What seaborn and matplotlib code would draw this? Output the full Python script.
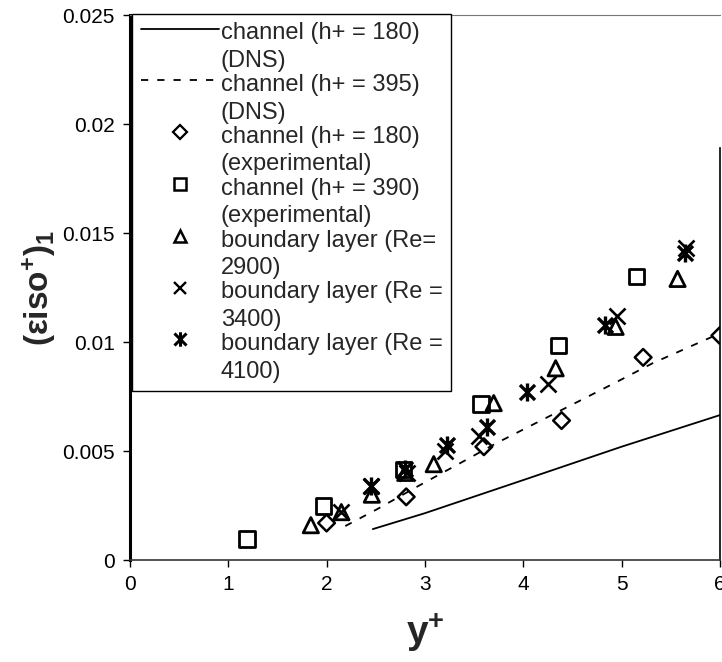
import numpy as np
import pandas as pd
import matplotlib
matplotlib.use("Agg")
import matplotlib.pyplot as plt
import seaborn as sns
from matplotlib.lines import Line2D
from matplotlib.path import Path
from matplotlib.legend_handler import HandlerLine2D

# ---------------- data ----------------
dns180_x = [2.47, 3.0, 4.0, 5.0, 6.0]
dns180_y = [0.00142, 0.00215, 0.00367, 0.0052, 0.00665]

dns395_x = [2.19, 2.5, 2.95, 3.36, 3.73, 4.95, 5.32, 6.0]
dns395_y = [0.00156, 0.0023, 0.00344, 0.00445, 0.00537, 0.00817, 0.00904, 0.0104]

exp180_x = [2.0, 2.81, 3.6, 4.39, 5.22, 6.0]
exp180_y = [0.0017, 0.0029, 0.0052, 0.0064, 0.0093, 0.0103]

exp390_x = [1.19, 1.97, 2.78, 3.57, 4.36, 5.15]
exp390_y = [0.00096, 0.00248, 0.00417, 0.00716, 0.00986, 0.0130]

bl2900_x = [1.84, 2.15, 2.46, 2.8, 3.09, 3.7, 4.33, 4.94, 5.57]
bl2900_y = [0.0016, 0.0022, 0.0030, 0.0040, 0.0044, 0.0072, 0.0088, 0.0107, 0.0129]

bl3400_x = [2.15, 2.45, 2.82, 3.2, 3.55, 4.25, 4.95, 5.66]
bl3400_y = [0.0022, 0.0034, 0.0040, 0.0050, 0.0057, 0.0081, 0.0112, 0.0143]

bl4100_x = [2.45, 2.8, 3.22, 3.63, 4.04, 4.83, 5.65]
bl4100_y = [0.0034, 0.0042, 0.0053, 0.0061, 0.0077, 0.0108, 0.0141]

labels = [
    "channel (h+ = 180)\n(DNS)",
    "channel (h+ = 395)\n(DNS)",
    "channel (h+ = 180)\n(experimental)",
    "channel (h+ = 390)\n(experimental)",
    "boundary layer (Re=\n2900)",
    "boundary layer (Re =\n3400)",
    "boundary layer (Re =\n4100)",
]
x_ticks = [0, 1, 2, 3, 4, 5, 6]
y_ticks = [0, 0.005, 0.01, 0.015, 0.02, 0.025]
y_ticklabels = ["0", "0.005", "0.01", "0.015", "0.02", "0.025"]

# ---------------- style ----------------
sns.set_theme(style="white")
plt.rcParams["font.family"] = ["Liberation Sans", "DejaVu Sans"]
plt.rcParams["mathtext.fontset"] = "custom"
plt.rcParams["mathtext.rm"] = "Liberation Sans:bold"
plt.rcParams["mathtext.it"] = "Liberation Sans:bold"
plt.rcParams["mathtext.bf"] = "Liberation Sans:bold"

# Excel-like star marker: X with vertical bar
star_path = Path(
    [(-1, -1), (1, 1), (-1, 1), (1, -1), (0, -1.2), (0, 1.2)],
    [Path.MOVETO, Path.LINETO, Path.MOVETO, Path.LINETO, Path.MOVETO, Path.LINETO],
)

fig = plt.figure(figsize=(7.22, 6.62), dpi=100)
ax = fig.add_axes([0.180, 0.154, 0.817, 0.823])

def line_df(x, y):
    return pd.DataFrame({"x": x, "y": y})

sns.lineplot(data=line_df(dns180_x, dns180_y), x="x", y="y", ax=ax,
             color="black", linewidth=1.3, sort=False, estimator=None)
sns.lineplot(data=line_df(dns395_x, dns395_y), x="x", y="y", ax=ax,
             color="black", linewidth=1.3, sort=False, estimator=None,
             linestyle=(0, (4, 5)))

marker_specs = [
    (exp180_x, exp180_y, "D", 8.5, 1.8),
    (exp390_x, exp390_y, "s", 11.0, 2.0),
    (bl2900_x, bl2900_y, "^", 11.0, 2.0),
    (bl3400_x, bl3400_y, "x", 11.5, 1.9),
    (bl4100_x, bl4100_y, star_path, 13.0, 2.4),
]
for xs, ys, mk, ms, mew in marker_specs:
    filled = mk not in ("x",) and not isinstance(mk, Path)
    sns.scatterplot(data=line_df(xs, ys), x="x", y="y", ax=ax,
                    marker=mk, s=ms ** 2, linewidth=mew,
                    facecolor="none" if filled else "black",
                    edgecolor="black", color="black", zorder=3)

ax.set_xlim(0, 6)
ax.set_ylim(0, 0.025)
ax.set_xticks(x_ticks)
ax.set_xticklabels([str(t) for t in x_ticks])
ax.set_yticks(y_ticks)
ax.set_yticklabels(y_ticklabels)
ax.tick_params(axis="both", direction="out", length=5, width=1.0,
               labelsize=15, colors="black", pad=6, left=True, bottom=True)

for side in ["left", "bottom", "top", "right"]:
    ax.spines[side].set_color("black")
ax.spines["left"].set_linewidth(2.2)
ax.spines["bottom"].set_linewidth(1.2)
ax.spines["top"].set_linewidth(0.8)
ax.spines["top"].set_color("#777777")
ax.spines["bottom"].set_color("#333333")
ax.spines["right"].set_linewidth(1.2)
ax.spines["right"].set_bounds(0, 0.0189)

ax.set_xlabel(r"$\mathrm{y}^{+}$", fontsize=28, labelpad=12)
ax.set_ylabel(r"$(\varepsilon\mathrm{iso}^{+})_{1}$", fontsize=24, labelpad=3)

# ---------------- legend ----------------
class FirstLineHandler(HandlerLine2D):
    def __init__(self, shift, **kw):
        super().__init__(**kw)
        self.shift = shift

    def adjust_drawing_area(self, legend, orig_handle, xdescent, ydescent,
                            width, height, fontsize):
        xd, yd, w, h = super().adjust_drawing_area(
            legend, orig_handle, xdescent, ydescent, width, height, fontsize)
        return xd, yd - 2 * self.shift, w, h

handles = [
    Line2D([], [], color="black", linewidth=1.3),
    Line2D([], [], color="black", linewidth=1.3, linestyle=(0, (4, 5))),
]
for _, _, mk, ms, mew in marker_specs:
    filled = mk not in ("x",) and not isinstance(mk, Path)
    handles.append(Line2D([], [], linestyle="none", marker=mk,
                          markersize=ms * 0.8, markeredgewidth=mew * 0.9,
                          markerfacecolor="none" if filled else "black",
                          markeredgecolor="black"))

leg = ax.legend(handles, labels, loc="upper left", bbox_to_anchor=(0.004, 1.002),
                fontsize=17, frameon=True, fancybox=False, shadow=False,
                edgecolor="black", framealpha=1, borderpad=0.35,
                labelspacing=0.1, handlelength=3.3, handletextpad=0.1,
                borderaxespad=0.0,
                handler_map={Line2D: FirstLineHandler(shift=13.5)})
leg.get_frame().set_linewidth(1.0)
for t in leg.get_texts():
    t.set_linespacing(1.32)

fig.savefig("out.png", dpi=100)
